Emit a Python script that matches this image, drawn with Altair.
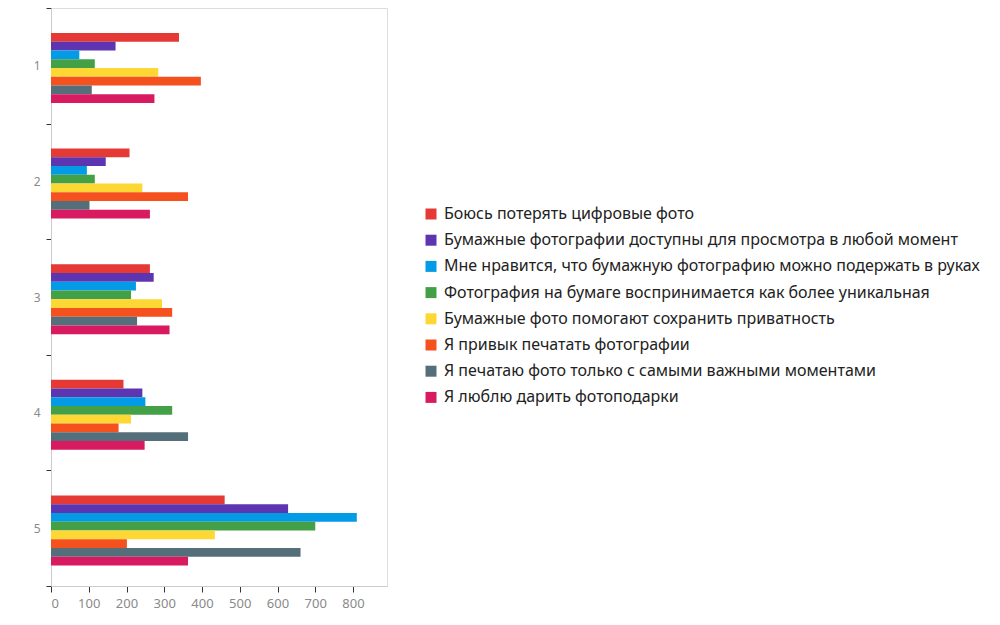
import altair as alt
import pandas as pd

categories = ["1", "2", "3", "4", "5"]
series = [
    "Боюсь потерять цифровые фото",
    "Бумажные фотографии доступны для просмотра в любой момент",
    "Мне нравится, что бумажную фотографию можно подержать в руках",
    "Фотография на бумаге воспринимается как более уникальная",
    "Бумажные фото помогают сохранить приватность",
    "Я привык печатать фотографии",
    "Я печатаю фото только с самыми важными моментами",
    "Я люблю дарить фотоподарки",
]
colors = ["#E53935", "#5E35B1", "#039BE5", "#43A047", "#FDD835", "#F4511E", "#546E7A", "#D81B60"]

v_fear = [339, 208, 262, 192, 460]
v_access = [171, 145, 272, 242, 628]
v_hold = [75, 95, 225, 250, 810]
v_unique = [116, 116, 212, 321, 700]
v_private = [284, 242, 294, 212, 434]
v_habit = [397, 363, 321, 179, 201]
v_important = [108, 102, 228, 363, 661]
v_gifts = [274, 262, 314, 248, 363]

all_values = [v_fear, v_access, v_hold, v_unique, v_private, v_habit, v_important, v_gifts]
rows = []
for s, vals in zip(series, all_values):
    for c, v in zip(categories, vals):
        rows.append({"cat": c, "series": s, "value": v})
df = pd.DataFrame(rows)

chart = (
    alt.Chart(df)
    .mark_bar()
    .encode(
        x=alt.X(
            "value:Q",
            scale=alt.Scale(domain=[0, 890], nice=False),
            axis=alt.Axis(
                title=None,
                values=[0, 100, 200, 300, 400, 500, 600, 700, 800],
                grid=False,
                domainColor="#cccccc",
                tickColor="#333333",
                tickSize=6,
                labelColor="#8a8a8a",
                labelFontSize=13,
                labelPadding=5,
            ),
        ),
        y=alt.Y(
            "cat:N",
            sort=categories,
            scale=alt.Scale(paddingInner=0, paddingOuter=0),
            axis=alt.Axis(
                title=None,
                tickBand="extent",
                grid=False,
                domainColor="#cccccc",
                tickColor="#333333",
                tickSize=5,
                labelColor="#8a8a8a",
                labelFontSize=12,
                labelPadding=6,
            ),
        ),
        yOffset=alt.YOffset(
            "series:N",
            sort=series,
            scale=alt.Scale(paddingInner=0, paddingOuter=0, range=[25, 95]),
        ),
        color=alt.Color(
            "series:N",
            sort=series,
            scale=alt.Scale(domain=series, range=colors),
            legend=alt.Legend(
                title=None,
                orient="none",
                legendX=372,
                legendY=198,
                symbolType="square",
                symbolSize=121,
                symbolStrokeWidth=0,
                labelFontSize=16,
                labelColor="#222222",
                labelLimit=700,
                rowPadding=10.2,
                labelOffset=5,
            ),
        ),
    )
    .properties(
        width=336,
        height=578,
        autosize=alt.AutoSizeParams(type="none"),
        padding={"left": 43, "top": 0, "right": 605, "bottom": 30},
    )
    .configure_view(stroke=None)
    .configure(font="Noto Sans")
)

chart.save("out.html", embed_options={"renderer": "svg", "actions": False})
